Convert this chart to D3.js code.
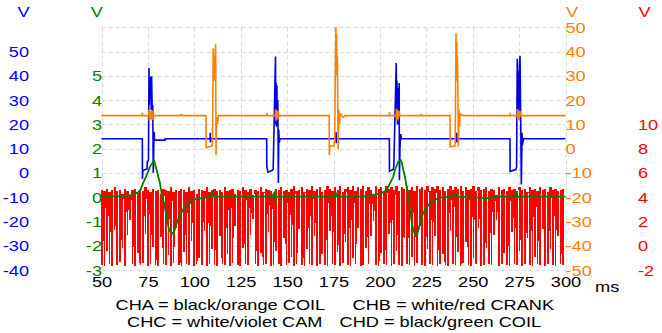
<!DOCTYPE html>
<html><head><meta charset="utf-8">
<script src="https://cdn.jsdelivr.net/npm/d3@7"></script>
<style>
body{margin:0;background:#fff}
svg{display:block}
text{font-family:"Liberation Sans",Arial,sans-serif;font-size:14px}
</style>
</head><body>
<svg id="c" width="662" height="333"></svg>
<script>
// ---------- data ----------
const xTicks = [50,75,100,125,150,175,200,225,250,275,300];
const chaTicks = [50,40,30,20,10,0,-10,-20,-30,-40,-50];   // orange, right
const chbTicks = [10,8,6,4,2,0,-2];                          // red, right
const chcTicks = [5,4,3,2,1,0,-1,-2,-3];                     // green, left
const chdTicks = [50,40,30,20,10,0,-10,-20,-30,-40];        // blue, left
const legendLines = [
  ["CHA = black/orange COIL","CHB = white/red CRANK"],
  ["CHC = white/violet CAM","CHD = black/green COIL"]
];

// CHA (orange coil) [ms, V]
const chaTrace = [[50,13.6],[72.0,13.6],[72.05,14.8],[72.15,13.6],
 [75.5,13.6],[75.6,16],[75.8,11.5],[76.3,15.5],[76.6,12],[77.2,15.8],[77.8,11.8],[78.2,13.6],
 [92.5,13.6],[92.7,14.2],[93.0,13.6],[93.3,14.2],[93.6,13.6],
 [106.3,13.6],[106.35,0.4],[109.4,1.1],[109.75,1.8],[110.2,41.3],[110.45,30],[110.6,38],[110.9,28],[111.15,36],[111.5,43],[111.7,-2.6],[112.05,13.0],[112.4,10.0],[112.8,12.5],[113.0,13.6],
 [139.0,13.6],[139.1,14.8],[139.2,13.6],
 [143.7,13.6],[143.8,16.2],[144.0,11.5],[144.4,15.8],[144.8,12],[145.2,15.5],[145.5,13.6],
 [172.7,13.6],[172.75,-2.6],[173.1,1.1],[175.25,1.1],[175.6,4],[176.3,50],[176.45,34],[176.65,47],[176.9,30],[177.1,38],[177.5,-0.3],[177.9,16],[178.2,10],[178.6,14.5],[180.1,12.9],[181.2,13.6],
 [205.1,13.6],[205.2,15],[205.3,13.6],
 [208.8,13.6],[208.9,16.5],[209.1,11.5],[209.5,16],[209.9,12],[210.3,15.6],[210.7,13.6],
 [222.0,13.6],[222.2,14.2],[222.5,13.6],
 [237.8,13.6],[237.85,0.8],[240.4,1.1],[240.6,3],[241.0,47.5],[241.15,28],[241.35,44],[241.55,30],[241.8,38],[242.0,25],[242.3,0.8],[242.6,16],[242.9,9],[243.2,14.5],[244.4,13.6],
 [270.1,13.6],[270.2,14.8],[270.3,13.6],
 [274.0,13.6],[274.1,16.3],[274.3,11.6],[274.7,15.8],[275.1,12],[275.5,15.4],[276.0,13.6],
 [300,13.6]];

// CHD (blue coil) [ms, V]
const chdTrace = [[50,14.1],[72.0,14.1],[72.05,-2.5],[72.3,1.0],[74.5,1.6],[74.7,4.8],[75.3,5.0],[75.6,43.2],[75.7,28],[75.9,38.8],[76.2,31],[76.4,39.6],[76.8,26],[77.0,39.8],[77.4,22],[77.6,28],[77.9,0.1],[78.2,12],[78.4,17],[78.6,13.5],[84.2,13.5],[84.3,14.1],
 [108.5,14.1],[108.6,16.5],[108.7,12.5],[108.8,14.1],
 [139.0,14.1],[139.05,2.7],[139.7,0.3],[142.1,1.1],[142.5,1.6],[143.75,48],[143.9,20],[144.1,37],[144.3,19],[144.5,36],[144.7,22],[145.0,30],[145.3,-4.1],[145.5,17.8],[145.8,12.5],[146.2,14.1],
 [176.3,14.1],[176.4,16.8],[176.5,12.2],[176.6,14.1],
 [205.1,14.1],[205.15,0.65],[207.2,1.4],[207.5,2.7],[208.8,45.3],[209.0,25],[209.2,38],[209.5,20],[209.75,35],[210.0,22],[210.4,37],[210.5,-3],[210.8,10],[211.2,16],[211.6,14.1],
 [241.3,14.1],[241.4,16.5],[241.5,12.5],[241.6,14.1],
 [270.1,14.1],[270.15,0.65],[273.3,1.4],[273.65,2.5],[274.0,47],[274.3,25],[274.55,42],[274.8,22],[275.2,45],[275.5,48.3],[276.2,-4.8],[276.6,16.5],[276.8,11.6],[277.4,14.1],[300,14.1]];

// CHC (green cam) [ms, V]
const chcTrace = [[50,0.03],[58,0.03],[62,0.06],[66,0.08],[69.7,0.2],[71,0.3],[72.4,0.58],[74.4,0.92],[76.1,1.25],[77.9,1.47],[78.4,1.49],[79.7,1.12],[81.5,0.58],[82.4,0.16],[83.7,-0.25],[85.1,-0.8],[86.4,-1.35],[87.8,-1.52],[89.1,-1.42],[90.5,-1.07],[92.3,-0.73],[94.1,-0.49],[95.9,-0.32],[97.7,-0.15],[100.4,-0.08],[104.8,-0.04],[108.5,0.02],[109.9,0.19],[110.6,0.02],
 [141.9,0.02],[143.4,0.23],[143.8,-0.18],[144.3,0.02],[175.5,0.02],[176.2,0.19],[176.8,0.02],
 [191.1,0.02],[196.4,0.1],[198.3,0.12],[201,0.18],[203.7,0.3],[204.5,0.43],[207.2,0.84],[208.1,1.12],[209.9,1.47],[211.2,1.53],[211.9,1.4],[212.6,1.12],[213.5,0.84],[214.4,0.44],[215.3,0.02],[216.2,-0.52],[217.1,-1.0],[218.0,-1.34],[218.9,-1.55],[220.1,-1.55],[221.2,-1.2],[222.5,-0.8],[224.3,-0.52],[227.0,-0.25],[229.7,-0.11],[232.4,-0.02],[239.5,0.02],[241.0,0.16],[242.3,0.02],[259.3,-0.05],[262,0.02],[272.8,0.02],[273.4,0.23],[274.2,0.0],[275,0.02],[300,0.02]];

// CHB (red crank): per-tooth high and low readings, one tooth every crankPeriod ms from crankStart
const crankStart = 50, crankPeriod = 1.381;
const crankHi = [
 4.6,4.5,4.7,4.4,4.6,4.8,4.5,4.6,4.3,4.7,
 4.5,4.2,4.6,4.7,4.4,4.6,4.5,4.8,4.6,4.4,
 4.7,4.5,4.6,4.3,4.7,4.6,4.5,4.8,4.4,4.6,
 4.5,4.7,4.6,4.4,4.8,4.5,4.6,4.3,4.7,4.6,
 4.5,4.8,4.4,4.6,4.7,4.5,4.6,4.4,4.8,4.5,
 4.6,4.7,4.3,4.6,4.5,4.8,4.6,4.4,4.7,4.2,
 4.6,4.5,4.8,4.4,4.7,4.6,4.5,4.3,4.7,4.6,
 4.8,4.5,4.6,4.4,4.7,4.9,4.5,4.6,4.8,4.4,
 4.7,4.6,4.9,4.5,4.7,4.8,4.4,4.6,4.9,4.7,
 4.5,4.8,4.6,4.9,4.4,4.7,4.8,4.6,4.9,4.5,
 4.8,4.7,4.9,4.5,4.8,4.6,4.2,4.9,4.7,4.8,
 4.5,4.9,4.7,4.8,4.6,4.9,4.5,4.8,4.7,4.9,
 4.6,4.8,4.5,4.9,4.7,4.8,4.6,4.9,4.5,4.8,
 4.7,4.9,4.6,4.8,4.5,4.7,4.9,4.6,4.8,4.7,
 4.9,4.5,4.8,4.6,4.7,4.9,4.5,4.8,4.6,4.7,
 4.8,4.5,4.7,4.6,4.2,4.8,4.6,4.7,4.5,4.8,
 4.6,4.7,4.5,4.8,4.6,4.7,4.4,4.8,4.6,4.7,
 4.5,4.8,4.6,4.7,4.4,4.8,4.6,4.7,4.5,4.6,4.7];
const crankLo = [
 -1.6,-1.7,-0.4,-1.5,-1.7,1.3,-1.6,-1.3,-0.2,-1.7,
 0.9,2.1,-1.5,-1.7,-0.6,-1.6,-1.4,1.0,-1.7,-1.5,
 -0.1,-1.6,-1.7,0.7,-1.5,-1.6,-0.8,-1.7,-1.4,1.5,
 -1.6,-1.7,-0.5,-1.5,-1.6,0.4,-1.7,-1.5,-1.0,-1.6,
 1.2,-1.7,-1.5,-0.3,-1.6,-1.7,0.8,-1.5,-1.6,-0.7,
 -1.7,-1.4,1.6,-1.6,-1.7,-0.2,-1.5,-1.6,0.9,2.2,
 -1.5,-1.7,-0.6,-1.6,-1.5,1.1,-1.7,-1.6,-0.4,-1.5,
 -1.7,0.6,-1.6,-1.4,-0.9,-1.7,-1.5,1.4,-1.6,-1.7,
 -0.3,-1.5,-1.6,0.8,-1.7,-1.5,-0.7,-1.6,-1.7,1.2,
 -1.5,-1.6,-0.5,-1.7,-1.4,0.3,-1.6,-1.7,-1.0,-1.5,
 1.5,-1.7,-1.6,-0.2,-1.5,0.8,2.0,-1.6,-1.7,-0.6,
 -1.5,-1.6,1.0,-1.7,-1.5,-0.4,-1.6,-1.7,0.6,-1.5,
 -1.6,-0.9,-1.7,-1.4,1.4,-1.6,-1.7,-0.3,-1.5,-1.6,
 0.8,-1.7,-1.5,-0.7,-1.6,-1.7,1.2,-1.5,-1.6,-0.5,
 -1.7,-1.4,0.3,-1.6,-1.7,-1.0,-1.5,1.5,-1.7,-1.6,
 -0.2,-1.5,-1.6,0.9,2.1,-1.7,-1.5,-0.6,-1.6,-1.7,
 1.1,-1.5,-1.6,-0.4,-1.7,-1.5,0.6,-1.6,-1.7,-0.9,
 -1.5,-1.6,1.4,-1.7,-1.5,-0.3,-1.6,-1.7,0.8,-1.5,-1.6];

// ---------- chart ----------
const svg = d3.select('#c');
const TOP = 27.3, BOT = 270;
const x  = d3.scaleLinear().domain([50,300]).range([101.5,565.5]);
const yA = d3.scaleLinear().domain([-50,50]).range([BOT,TOP]);
const yB = d3.scaleLinear().domain([-2,18]).range([BOT,TOP]);
const yC = d3.scaleLinear().domain([-3,7]).range([BOT,TOP]);
const yD = d3.scaleLinear().domain([-40,60]).range([BOT,TOP]);

const C = {A:'#ff8000', B:'#ff0000', C:'#008000', D:'#0000ff'};
const SX = 1.3; // horizontal stretch of the original lettering

// grid
const grid = svg.append('g').attr('stroke','#d9d9d9').attr('stroke-width',1).attr('stroke-dasharray','4,3');
grid.selectAll('line.h').data(chaTicks).join('line').attr('class','h')
  .attr('x1',x(50)).attr('x2',x(300))
  .attr('y1',d=>Math.round(yA(d))+0.5).attr('y2',d=>Math.round(yA(d))+0.5);
grid.selectAll('line.v').data(xTicks).join('line').attr('class','v')
  .attr('y1',TOP).attr('y2',BOT)
  .attr('x1',d=>Math.round(x(d))+0.5).attr('x2',d=>Math.round(x(d))+0.5);

// axes
function styleAxis(g, color, dy){
  g.select('.domain').remove();
  g.selectAll('.tick line').remove();
  g.attr('font-size',14).attr('font-family','"Liberation Sans",Arial,sans-serif').attr('color',color);
  g.selectAll('.tick text').attr('dy',dy).attr('transform',`scale(${SX},1)`);
}
const fmt = d => String(d);
svg.append('g').attr('transform','translate(29,0)')
  .call(d3.axisLeft(yD).tickValues(chdTicks).tickSize(0).tickPadding(0).tickFormat(fmt))
  .call(g=>styleAxis(g,C.D,'0.36em'));
svg.append('g').attr('transform','translate(102,0)')
  .call(d3.axisLeft(yC).tickValues(chcTicks).tickSize(0).tickPadding(0).tickFormat(fmt))
  .call(g=>styleAxis(g,C.C,'0.36em'));
svg.append('g').attr('transform','translate(565.5,0)')
  .call(d3.axisRight(yA).tickValues(chaTicks).tickSize(0).tickPadding(0).tickFormat(fmt))
  .call(g=>styleAxis(g,C.A,'0.36em'));
svg.append('g').attr('transform','translate(638,0)')
  .call(d3.axisRight(yB).tickValues(chbTicks).tickSize(0).tickPadding(0).tickFormat(fmt))
  .call(g=>styleAxis(g,C.B,'0.36em'));
svg.append('g')
  .call(d3.axisBottom(x).tickValues(xTicks).tickSize(0).tickPadding(0).tickFormat(fmt))
  .call(g=>{styleAxis(g,'#000','0'); g.selectAll('.tick text').attr('y',287.5);});

// unit labels
const unit = [[23.5,C.D],[96.7,C.C],[572,C.A],[644.5,C.B]];
unit.forEach(([ux,col])=>{
  svg.append('text').attr('transform',`translate(${ux},16.7) scale(${SX},1)`)
    .attr('text-anchor','middle').attr('fill',col).text('V');
});
svg.append('text').attr('transform',`translate(595,291.7) scale(${SX},1)`).attr('fill','#000').text('ms');

// legend
const legPos = [[[115.5,310],[352.5,310]],[[127,327],[339.5,327]]];
legendLines.forEach((ln,i)=>ln.forEach((s,j)=>{
  svg.append('text').attr('transform',`translate(${legPos[i][j][0]},${legPos[i][j][1]}) scale(${SX},1)`)
    .attr('fill','#000').text(s);
}));

// series
// each crank tooth is drawn as its own narrow down/up stroke
const crankPts = [];
crankHi.forEach((hi,i)=>{
  const t = crankStart + i*crankPeriod;
  crankPts.push([t,hi],[t+0.2,crankLo[i]],[t+0.4,hi],null);
});
const plot = svg.append('g').attr('fill','none').attr('stroke-linejoin','miter').attr('stroke-miterlimit',2);
const line = y => d3.line().defined(d=>d!==null).x(d=>x(d[0])).y(d=>y(d[1]));
plot.append('path').datum(crankPts).attr('d',line(yB)).attr('stroke',C.B).attr('stroke-width',1.6)
  .attr('shape-rendering','crispEdges');
plot.append('path').datum(chdTrace).attr('d',line(yD)).attr('stroke','#0000e8').attr('stroke-width',1.6);
plot.append('path').datum(chaTrace).attr('d',line(yA)).attr('stroke',C.A).attr('stroke-width',1.6);
plot.append('path').datum(chcTrace).attr('d',line(yC)).attr('stroke','#008000').attr('stroke-width',1.8);
</script>
</body></html>
